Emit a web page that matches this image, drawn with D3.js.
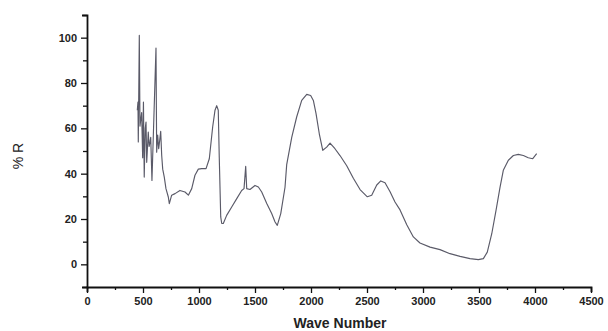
<!DOCTYPE html>
<html><head><meta charset="utf-8">
<script src="https://cdn.jsdelivr.net/npm/d3@7"></script>
<style>body{margin:0;background:#fff}svg{display:block}</style>
</head><body>
<svg id="c" width="608" height="331"></svg>
<script>
const waveNumber = [449,455,458,467,473,488,497,504,511,520,527,533,538,547,555,563,569,580,616,622,631,640,650,658,667,676,690,705,726,735,756,786,830,875,905,935,964,994,1024,1063,1092,1122,1143,1158,1172,1181,1194,1203,1217,1247,1292,1337,1381,1402,1417,1426,1455,1500,1530,1560,1605,1649,1679,1699,1730,1768,1783,1828,1872,1917,1962,1997,2021,2045,2074,2105,2140,2170,2214,2259,2319,2378,2438,2503,2542,2587,2623,2661,2706,2750,2795,2855,2914,2973,3063,3152,3241,3331,3420,3494,3539,3574,3614,3652,3688,3717,3762,3807,3851,3896,3940,3980,4015];
const reflectance = [68,71.6,54,101,61,67,47,71.6,38.5,60,62.8,45,49.5,58.4,52,54,56,37,95.4,49.5,57,51,55,58.7,48,42,38.5,33.4,29.7,26.8,30.5,31.2,32.6,31.9,30.5,33.4,39.3,42,42.2,42.2,46.6,60.6,68,70,68,47,20.9,18,18,21.6,25.3,29,32.6,33.4,43.2,33.4,33,34.8,34.1,31.9,26.8,22.4,18.7,17.2,22.4,34,44,56,65,72.3,75,74.5,72.3,66.5,57.6,50.3,51.7,53.5,51,48,43.5,38,33,29.8,30.5,35,36.8,36,32,27.5,24,17.5,12.1,9.4,7.6,6.5,4.7,3.5,2.5,2.1,2.5,5.4,13.5,23.8,34.1,41.5,45.9,48,48.5,48,47,46.6,48.8];
const xTicks = [0,500,1000,1500,2000,2500,3000,3500,4000,4500];
const yTicks = [0,20,40,60,80,100];
const xTitle = "Wave Number";
const yTitle = "% R";

const svg = d3.select("#c");
const x = d3.scaleLinear().domain([0,4500]).range([87,591]);
const y = d3.scaleLinear().domain([-10,110]).range([287,15]);
const font = "'Liberation Sans', Arial, sans-serif";

// x axis
const xAxis = svg.append("g").attr("transform", `translate(0,${y(-10)})`)
  .call(d3.axisBottom(x).tickValues(d3.range(0,4501,250)).tickSize(5).tickFormat(d => xTicks.includes(d) ? d : ""));
xAxis.select(".domain").attr("stroke","#111").attr("stroke-width",1.8);
xAxis.selectAll(".tick line").attr("stroke","#111").attr("stroke-width",1.3)
  .attr("y2", d => xTicks.includes(d) ? 6 : 3);
xAxis.selectAll(".tick text").attr("font-family",font).attr("font-size",11).attr("font-weight","bold").attr("fill","#222").attr("dy","1em").attr("y",7);

// y axis
const yAxis = svg.append("g").attr("transform", `translate(${x(0)},0)`)
  .call(d3.axisLeft(y).tickValues(d3.range(-10,111,10)).tickSize(5).tickFormat(d => yTicks.includes(d) ? d : ""));
yAxis.select(".domain").attr("stroke","#111").attr("stroke-width",1.8);
yAxis.selectAll(".tick line").attr("stroke","#111").attr("stroke-width",1.3)
  .attr("x2", d => yTicks.includes(d) ? -6 : -4);
yAxis.selectAll(".tick text").attr("font-family",font).attr("font-size",11).attr("font-weight","bold").attr("fill","#222").attr("x",-10);

// titles
svg.append("text").attr("x",340).attr("y",328).attr("text-anchor","middle")
  .attr("font-family",font).attr("font-size",14).attr("font-weight","bold").attr("fill","#222").text(xTitle);
svg.append("text").attr("transform","translate(23,156) rotate(-90)").attr("text-anchor","middle")
  .attr("font-family",font).attr("font-size",14).attr("fill","#222").text(yTitle);

// line
const data = waveNumber.map((w,i)=>({w, r: reflectance[i]}));
svg.append("path").datum(data)
  .attr("fill","none").attr("stroke","#5a5a68").attr("stroke-width",1.15).attr("stroke-linejoin","round")
  .attr("d", d3.line().curve(d3.curveLinear).x(d=>x(d.w)).y(d=>y(d.r)));
</script>
</body></html>
